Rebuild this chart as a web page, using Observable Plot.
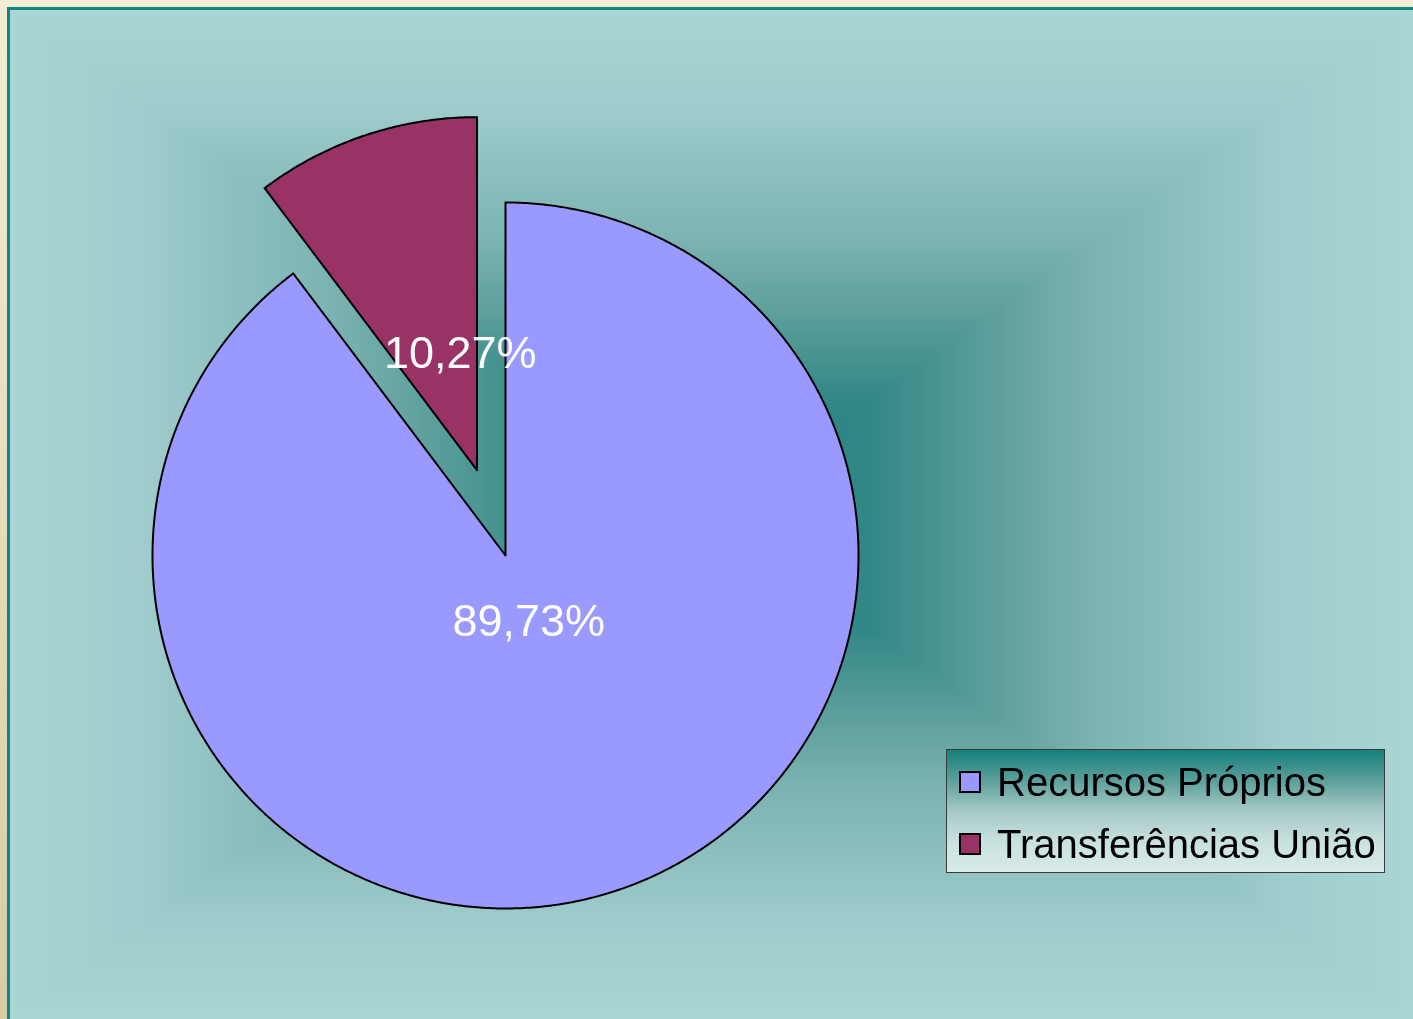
<!DOCTYPE html>
<html>
<head>
<meta charset="utf-8">
<script src="https://cdn.jsdelivr.net/npm/d3@7"></script>
<script src="https://cdn.jsdelivr.net/npm/@observablehq/plot@0.6"></script>
<style>
  html, body { margin: 0; padding: 0; }
  body { width: 1413px; height: 1019px; overflow: hidden; position: relative;
         background: linear-gradient(to bottom, #f3ecd7, #d8cba6); font-family: "Liberation Sans", Arial, sans-serif; }
  #frame { position: absolute; left: 7px; top: 7px; width: 1406px; height: 1012px;
           border-left: 3px solid #10857f; border-top: 3px solid #10857f; box-sizing: border-box; }
  #bg { position: absolute; left: 10px; top: 10px; }
  #chart { position: absolute; left: 0; top: 0; }
  #legend { position: absolute; left: 946px; top: 749px; width: 439px; height: 124px; box-sizing: border-box;
            border: 1px solid #3a3a3a;
            background: linear-gradient(to bottom, #15807c 0%, #5c9f9b 25%, #a5c9c6 50%, #c8e1df 75%, #d7ebe9 100%); }
  .item { position: absolute; left: 12px; height: 40px; display: flex; align-items: center; }
  .sw { width: 22px; height: 22px; box-sizing: border-box; border: 2px solid #000; }
  .lab { margin-left: 16px; font-size: 40px; color: #000; white-space: nowrap; line-height: 40px; }
</style>
</head>
<body>
<div id="frame"></div>
<canvas id="bg" width="1403" height="1009"></canvas>
<div id="chart"></div>
<div id="legend"></div>
<script>
// ---- data ----
const categories = ["Recursos Próprios", "Transferências União"];
const values = [89.73, 10.27];
const valueLabels = ["89,73%", "10,27%"];
const colors = ["#9999ff", "#993366"];

// ---- layout constants ----
const W = 1413, H = 1019;
const cx = 505, cy = 555, R = 353;
const explodeIndex = 1, explodeDist = 90;

// ---- background rectangular gradient ----
(function () {
  const cv = document.getElementById("bg");
  const w = cv.width, h = cv.height;
  const ctx = cv.getContext("2d");
  const img = ctx.createImageData(w, h);
  const stops = d3.scaleLinear()
    .domain([0, 0.23, 0.41, 0.55, 0.67, 0.8, 1])
    .range(["#1e7a78", "#328886", "#5fa09e", "#7db4b3", "#8cbebe", "#9ecbcb", "#a9d5d5"])
    .clamp(true);
  const N = 1000, lut = [];
  for (let i = 0; i <= N; i++) { const c = d3.rgb(stops(i / N)); lut.push([c.r, c.g, c.b]); }
  const hx = w / 2, hy = h / 2;
  for (let y = 0; y < h; y++) {
    const ty = Math.abs(y + 0.5 - hy) / hy;
    for (let x = 0; x < w; x++) {
      const tx = Math.abs(x + 0.5 - hx) / hx;
      const t = Math.max(tx, ty);
      const c = lut[Math.min(N, Math.round(t * N))];
      const k = (y * w + x) * 4;
      img.data[k] = c[0]; img.data[k + 1] = c[1]; img.data[k + 2] = c[2]; img.data[k + 3] = 255;
    }
  }
  ctx.putImageData(img, 0, 0);
})();

// ---- pie geometry from data ----
const arcs = d3.pie().sort(null).startAngle(0).endAngle(2 * Math.PI)(values);
const pts = [];
const labelData = [];
arcs.forEach((a, i) => {
  const mid = (a.startAngle + a.endAngle) / 2;
  const off = i === explodeIndex ? explodeDist : 0;
  const ox = cx + off * Math.sin(mid), oy = cy - off * Math.cos(mid);
  const name = categories[i];
  pts.push({name, x: ox, y: oy});
  const steps = Math.max(8, Math.ceil((a.endAngle - a.startAngle) * 120));
  for (let s = 0; s <= steps; s++) {
    const ang = a.startAngle + (a.endAngle - a.startAngle) * s / steps;
    pts.push({name, x: ox + R * Math.sin(ang), y: oy - R * Math.cos(ang)});
  }
  pts.push({name, x: ox, y: oy});
  const lr = i === explodeIndex ? 119 : 70;
  labelData.push({name, text: valueLabels[i], x: ox + lr * Math.sin(mid), y: oy - lr * Math.cos(mid)});
});

const chart = Plot.plot({
  width: W, height: H,
  margin: 0,
  style: {background: "transparent", overflow: "visible"},
  x: {domain: [0, W], range: [0, W], axis: null},
  y: {domain: [0, H], range: [0, H], axis: null},
  color: {domain: categories, range: colors},
  marks: [
    Plot.line(pts, {x: "x", y: "y", z: "name", fill: "name", stroke: "#000", strokeWidth: 2,
                    strokeLinejoin: "miter", strokeMiterlimit: 10, curve: "linear"}),
    Plot.text(labelData.filter(d => d.name === categories[0]), {x: "x", y: "y", text: "text", fill: "white",
      fontSize: 45, fontFamily: "Liberation Sans, Arial, sans-serif", textAnchor: "middle", dx: 1, dy: 0}),
    Plot.text(labelData.filter(d => d.name === categories[1]), {x: "x", y: "y", text: "text", fill: "white",
      fontSize: 45, fontFamily: "Liberation Sans, Arial, sans-serif", textAnchor: "middle", dx: 21, dy: -4})
  ]
});
document.getElementById("chart").appendChild(chart);

// ---- legend ----
const legend = document.getElementById("legend");
categories.forEach((c, i) => {
  const it = document.createElement("div");
  it.className = "item";
  it.style.top = (12 + i * 62) + "px";
  const sw = document.createElement("div");
  sw.className = "sw"; sw.style.background = colors[i];
  const lb = document.createElement("div");
  lb.className = "lab"; lb.textContent = c;
  it.appendChild(sw); it.appendChild(lb);
  legend.appendChild(it);
});
</script>
</body>
</html>
